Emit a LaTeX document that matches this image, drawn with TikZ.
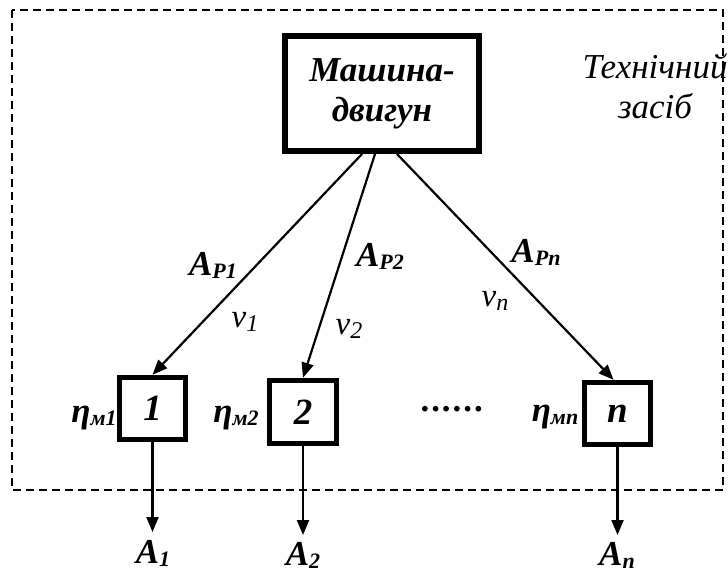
\documentclass[tikz,border=0pt]{standalone}
\usepackage{fontspec}
\setmainfont{Liberation Serif}
\usetikzlibrary{arrows.meta}

% lowered, smaller index for bold italic labels
\newcommand{\idx}[1]{\raisebox{-3pt}{\fontsize{22}{22}\selectfont #1}}
% lowered index for the plain italic speed labels
\newcommand{\vidx}[1]{\raisebox{-4pt}{\fontsize{24}{24}\selectfont #1}}

\begin{document}
\begin{tikzpicture}[x=1pt,y=-1pt,
    bigbox/.style={draw, line width=6pt, inner sep=0pt, align=center,
      font=\fontsize{35}{40}\selectfont\bfseries\itshape},
    unitbox/.style={draw, line width=5.5pt, inner sep=0pt,
      minimum width=66pt, minimum height=62pt,
      font=\fontsize{37}{37}\selectfont\bfseries\itshape},
    lbl/.style={inner sep=0pt, font=\fontsize{35}{35}\selectfont\bfseries\itshape},
    vlbl/.style={inner sep=0pt, font=\fontsize{33}{33}\selectfont\itshape},
    conn/.style={line width=2.2pt, -{Triangle[length=15pt,width=12pt]}},
    frame/.style={line width=1.8pt, dash pattern=on 8pt off 5pt}
  ]
  \useasboundingbox (0,0) rectangle (727,573);

  % boundary of the technical means
  \draw[frame] (12,10) rectangle (723,490);
  \node[inner sep=0pt, font=\fontsize{35}{40}\selectfont\itshape, align=center]
    (tech) at (655,86) {Технічний\\засіб};

  % engine
  \node[bigbox, minimum width=194pt, minimum height=115pt] (mach) at (382,93.5)
    {Машина-\\двигун};

  % driven units
  \node[unitbox] (b1) at (152.5,408.5) {1};
  \node[unitbox, minimum width=67pt, minimum height=63pt] (b2) at (303,412) {2};
  \node[unitbox] (bn) at (617.5,413.5) {n};

  \node[lbl] (dots) at (453,409) {.\kern2pt.\kern2pt.\kern2pt.\kern2pt.\kern2pt.};

  % power flows from the engine
  \draw[conn] ([xshift=-20pt]mach.south) -- (b1.north);
  \draw[conn] ([xshift=-7pt]mach.south) -- (b2.north);
  \draw[conn] ([xshift=15pt]mach.south) -- ([xshift=-4pt]bn.north);

  \node[lbl] (ap1) at (213,265) {A\idx{P1}};
  \node[lbl] (ap2) at (380,256) {A\idx{P2}};
  \node[lbl] (apn) at (536,252) {A\idx{Pn}};

  \node[vlbl] (v1) at (245,322) {v\vidx{1}};
  \node[vlbl] (v2) at (349,329) {v\vidx{2}};
  \node[vlbl] (vn) at (495,301) {v\vidx{n}};

  % efficiencies
  \node[lbl] (e1) at (94,418) {η\idx{м1}};
  \node[lbl] (e2) at (236,418) {η\idx{м2}};
  \node[lbl] (en) at (555,417) {η\idx{мn}};

  % useful work outputs
  \coordinate (o1) at (152.5,532);
  \coordinate (o2) at (303,535);
  \coordinate (on) at (617.5,535);
  \draw[conn] (b1.south) -- (o1);
  \draw[conn] (b2.south) -- (o2);
  \draw[conn] (bn.south) -- (on);

  \node[lbl] (a1) at (153,553) {A\idx{1}};
  \node[lbl] (a2) at (303,555) {A\idx{2}};
  \node[lbl] (an) at (617,555) {A\idx{n}};
\end{tikzpicture}
\end{document}
